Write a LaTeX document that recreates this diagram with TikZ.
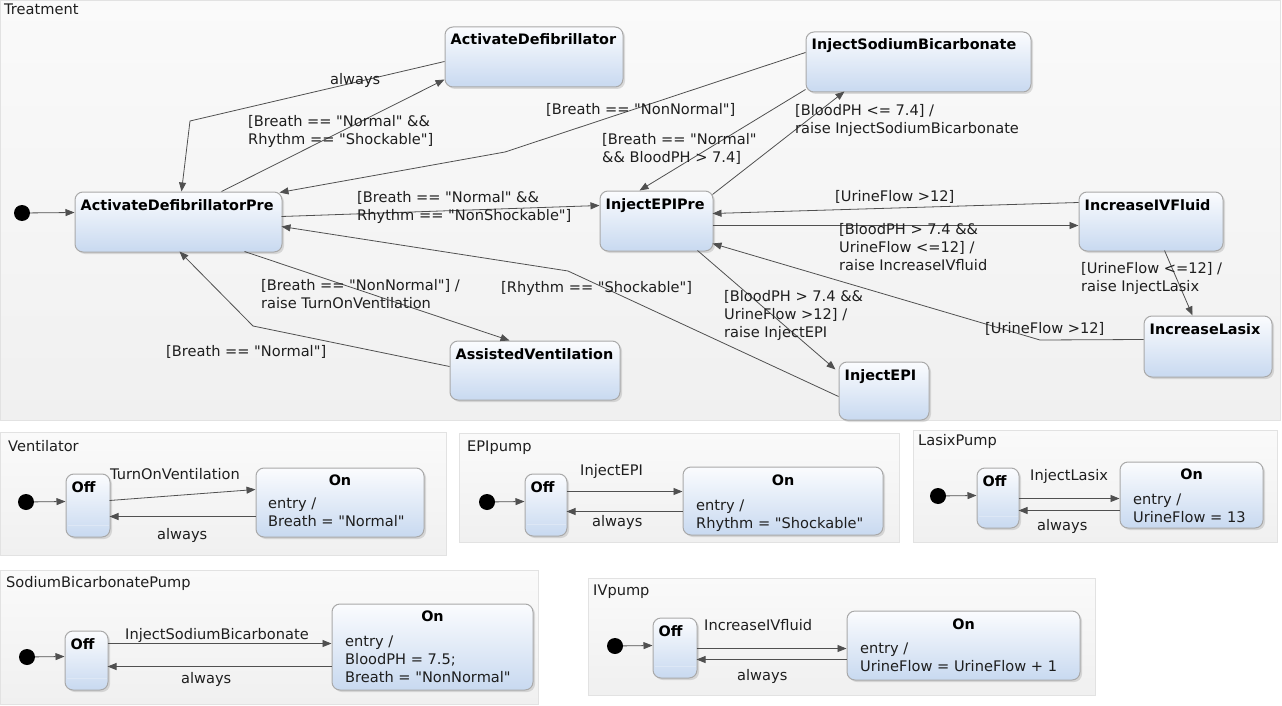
\documentclass[tikz,border=0pt]{standalone}
\usepackage{fontspec}
\newfontfamily\labfont{DejaVu Sans}
\usetikzlibrary{arrows.meta,shadows,calc}
\definecolor{edgec}{HTML}{505050}
\definecolor{boxbd}{HTML}{A9A9A9}
\definecolor{boxtop}{HTML}{FBFCFE}
\definecolor{boxbot}{HTML}{C8D9F0}
\definecolor{regtop}{HTML}{FAFAFA}
\definecolor{regbot}{HTML}{F0F0F0}
\definecolor{regbd}{HTML}{E2E2E2}
\definecolor{txt}{HTML}{1E1E1E}
\definecolor{sepc}{HTML}{DDE7F5}
\tikzset{
 stbox/.style={draw=boxbd, line width=1pt, rounded corners=8pt, top color=boxtop, bottom color=boxbot,
   drop shadow={opacity=0.25, shadow xshift=2pt, shadow yshift=-2pt}, inner sep=0pt},
 sttitle/.style={font=\labfont\fontsize{14.4}{16}\selectfont\bfseries, text=black, inner sep=0pt, anchor=base west},
 lbl/.style={font=\labfont\fontsize{14.6}{18}\selectfont, text=txt, inner sep=0pt, anchor=north west, align=left, yshift=-1.5pt},
 arr/.style={draw=edgec, line width=0.8pt, -{Triangle[length=9pt,width=7pt]}},
 region/.style={draw=regbd, top color=regtop, bottom color=regbot, line width=0.8pt},
 initdot/.style={circle, fill=black, minimum size=16pt, inner sep=0pt},
}
\newcommand\mystate[5]{%
 \node[stbox, minimum width={(#4-#2)*1pt}, minimum height={(#5-#3)*1pt}] (#1) at ({(#2+#4)/2},{(#3+#5)/2}) {};}
\newcommand\mytitle[2]{\node[sttitle] (#1-t) at ($(#1.north west)+(6,18.5)$) {#2};}
\newcommand\offsep[1]{\draw[sepc, line width=0.8pt] ($(#1.south west)+(2,-12)$) -- ($(#1.south east)+(-2,-12)$);}
\begin{document}
\begin{tikzpicture}[x=1pt,y=-1pt]
\useasboundingbox (0,0) rectangle (1282,706);
\fill[white] (0,0) rectangle (1282,706);
% ================= Treatment =================
\draw[region] (0,0) rectangle (1280,420);
\node[lbl] (t-title) at (4,2) {Treatment};
\mystate{adp}{75}{192}{282}{252}\mytitle{adp}{ActivateDefibrillatorPre}
\mystate{ad}{445}{27}{623}{87}\mytitle{ad}{ActivateDefibrillator}
\mystate{isb}{806}{32}{1031}{92}\mytitle{isb}{InjectSodiumBicarbonate}
\mystate{iep}{600}{191}{713}{251}\mytitle{iep}{InjectEPIPre}
\mystate{iiv}{1079}{192}{1223}{251}\mytitle{iiv}{IncreaseIVFluid}
\mystate{il}{1144}{316}{1272}{377}\mytitle{il}{IncreaseLasix}
\mystate{av}{450}{341}{620}{400}\mytitle{av}{AssistedVentilation}
\mystate{ie}{839}{362}{929}{420}\mytitle{ie}{InjectEPI}
\node[initdot] (t-init) at (22,213) {};
\coordinate (b1) at (190,121);
\coordinate (b2) at (505,152);
\coordinate (b3) at (1040,340);
\coordinate (b4) at (568,271);
\coordinate (b5) at (253,326);
\draw[arr] (t-init) -- ($(adp.north west)+(0,21)$);
\draw[arr] ($(ad.north west)+(0,35)$) -- (b1) -- ($(adp.north west)+(107,0)$);
\draw[arr] ($(adp.north west)+(147,0)$) -- ($(ad.north west)+(0,53)$);
\draw[arr] ($(isb.north west)+(0,21)$) -- (b2) -- ($(adp.north west)+(205,1)$);
\draw[arr] ($(adp.north west)+(207,25)$) -- ($(iep.north west)+(0,15)$);
\draw[arr] ($(isb.north west)+(0,58)$) -- ($(iep.north west)+(40,0)$);
\draw[arr] ($(iep.north west)+(113,4)$) -- ($(isb.north west)+(39,60)$);
\draw[arr] ($(iiv.north west)+(0,11)$) -- ($(iep.north west)+(113,23)$);
\draw[arr] ($(iep.north west)+(113,35)$) -- ($(iiv.north west)+(0,34)$);
\draw[arr] ($(iiv.north west)+(86,59)$) -- ($(il.north west)+(49,0)$);
\draw[arr] ($(il.north west)+(0,24)$) -- (b3) -- ($(iep.north west)+(113,53)$);
\draw[arr] ($(iep.north west)+(98,60)$) -- ($(ie.north west)+(-3,8)$);
\draw[arr] ($(ie.north west)+(0,35)$) -- (b4) -- ($(adp.north west)+(207,35)$);
\draw[arr] ($(adp.north west)+(170,60)$) -- ($(av.north west)+(60,0)$);
\draw[arr] ($(av.north west)+(0,26)$) -- (b5) -- ($(adp.north west)+(105,60)$);
\node[lbl] (l2) at (330,72) {always};
\node[lbl] (l3) at (248,114) {[Breath == "Normal" \&\&\\Rhythm == "Shockable"]};
\node[lbl] (l4) at (546,102) {[Breath == "NonNormal"]};
\node[lbl] (l5) at (357,190) {[Breath == "Normal" \&\&\\Rhythm == "NonShockable"]};
\node[lbl] (l6) at (602,132) {[Breath == "Normal"\\\&\& BloodPH > 7.4]};
\node[lbl] (l7) at (795,103) {[BloodPH <= 7.4] /\\raise InjectSodiumBicarbonate};
\node[lbl] (l8) at (835,189) {[UrineFlow >12]};
\node[lbl] (l9) at (839,222) {[BloodPH > 7.4 \&\&\\UrineFlow <=12] /\\raise IncreaseIVfluid};
\node[lbl] (l10) at (1081,261) {[UrineFlow <=12] /\\raise InjectLasix};
\node[lbl] (l11) at (985,321) {[UrineFlow >12]};
\node[lbl] (l12) at (724,289) {[BloodPH > 7.4 \&\&\\UrineFlow >12] /\\raise InjectEPI};
\node[lbl] (l13) at (501,280) {[Rhythm == "Shockable"]};
\node[lbl] (l14) at (261,278) {[Breath == "NonNormal"] /\\raise TurnOnVentilation};
\node[lbl] (l15) at (166,344) {[Breath == "Normal"]};
% ================= Ventilator =================
\draw[region] (0,432) rectangle (446,555);
\node[lbl] (v-title) at (8,439) {Ventilator};
\mystate{voff}{66}{474}{110}{537}\mytitle{voff}{Off}\offsep{voff}
\mystate{von}{256}{468}{424}{537}
\node[sttitle, anchor=base] (von-t) at ($(von.north)+(0,18)$) {On};
\node[lbl] (von-e) at (268,496) {entry /\\Breath = "Normal"};
\node[initdot] (v-init) at (26,502) {};
\draw[arr] (v-init) -- ($(voff.north west)+(0,28)$);
\draw[arr] ($(voff.north west)+(44,27)$) -- ($(von.north west)+(0,22)$);
\draw[arr] ($(von.north west)+(0,49)$) -- ($(voff.north west)+(44,43)$);
\node[lbl] (v-l1) at (110,467) {TurnOnVentilation};
\node[lbl] (v-l2) at (157,527) {always};
% ================= EPIpump =================
\draw[region] (459,433) rectangle (899,542);
\node[lbl] (e-title) at (467,439) {EPIpump};
\mystate{eoff}{525}{474}{567}{536}\mytitle{eoff}{Off}\offsep{eoff}
\mystate{eon}{683}{467}{883}{535}
\node[sttitle, anchor=base] (eon-t) at ($(eon.north)+(0,19)$) {On};
\node[lbl] (eon-e) at (696,498) {entry /\\Rhythm = "Shockable"};
\node[initdot] (e-init) at (487,502) {};
\draw[arr] (e-init) -- ($(eoff.north west)+(0,28)$);
\draw[arr] ($(eoff.north west)+(42,18)$) -- ($(eon.north west)+(0,25)$);
\draw[arr] ($(eon.north west)+(0,45)$) -- ($(eoff.north west)+(42,38)$);
\node[lbl] (e-l1) at (580,463) {InjectEPI};
\node[lbl] (e-l2) at (592,514) {always};
% ================= LasixPump =================
\draw[region] (913,430) rectangle (1277,542);
\node[lbl] (la-title) at (918,433) {LasixPump};
\mystate{loff}{977}{468}{1019}{528}\mytitle{loff}{Off}\offsep{loff}
\mystate{lon}{1120}{462}{1263}{528}
\node[sttitle, anchor=base] (lon-t) at ($(lon.north)+(0,18)$) {On};
\node[lbl] (lon-e) at (1133,492) {entry /\\UrineFlow = 13};
\node[initdot] (la-init) at (938,496) {};
\draw[arr] (la-init) -- ($(loff.north west)+(0,28)$);
\draw[arr] ($(loff.north west)+(42,31)$) -- ($(lon.north west)+(0,37)$);
\draw[arr] ($(lon.north west)+(0,49)$) -- ($(loff.north west)+(42,43)$);
\node[lbl] (la-l1) at (1030,468) {InjectLasix};
\node[lbl] (la-l2) at (1037,518) {always};
% ================= SodiumBicarbonatePump =================
\draw[region] (0,570) rectangle (538,704);
\node[lbl] (s-title) at (6,575) {SodiumBicarbonatePump};
\mystate{soff}{65}{631}{108}{690}\mytitle{soff}{Off}\offsep{soff}
\mystate{son}{332}{604}{533}{690}
\node[sttitle, anchor=base] (son-t) at ($(son.north)+(0,18)$) {On};
\node[lbl] (son-e) at (345,634) {entry /\\BloodPH = 7.5;\\Breath = "NonNormal"};
\node[initdot] (s-init) at (27,657) {};
\draw[arr] (s-init) -- ($(soff.north west)+(0,26)$);
\draw[arr] ($(soff.north west)+(43,13)$) -- ($(son.north west)+(0,40)$);
\draw[arr] ($(son.north west)+(0,63)$) -- ($(soff.north west)+(43,36)$);
\node[lbl] (s-l1) at (125,627) {InjectSodiumBicarbonate};
\node[lbl] (s-l2) at (181,671) {always};
% ================= IVpump =================
\draw[region] (588,578) rectangle (1095,695);
\node[lbl] (i-title) at (593,583) {IVpump};
\mystate{ioff}{653}{618}{697}{678}\mytitle{ioff}{Off}\offsep{ioff}
\mystate{ion}{847}{611}{1080}{680}
\node[sttitle, anchor=base] (ion-t) at ($(ion.north)+(0,19)$) {On};
\node[lbl] (ion-e) at (860,641) {entry /\\UrineFlow = UrineFlow + 1};
\node[initdot] (i-init) at (615,646) {};
\draw[arr] (i-init) -- ($(ioff.north west)+(0,28)$);
\draw[arr] ($(ioff.north west)+(44,31)$) -- ($(ion.north west)+(0,38)$);
\draw[arr] ($(ion.north west)+(0,49)$) -- ($(ioff.north west)+(44,42)$);
\node[lbl] (i-l1) at (704,618) {IncreaseIVfluid};
\node[lbl] (i-l2) at (737,668) {always};
\end{tikzpicture}
\end{document}
